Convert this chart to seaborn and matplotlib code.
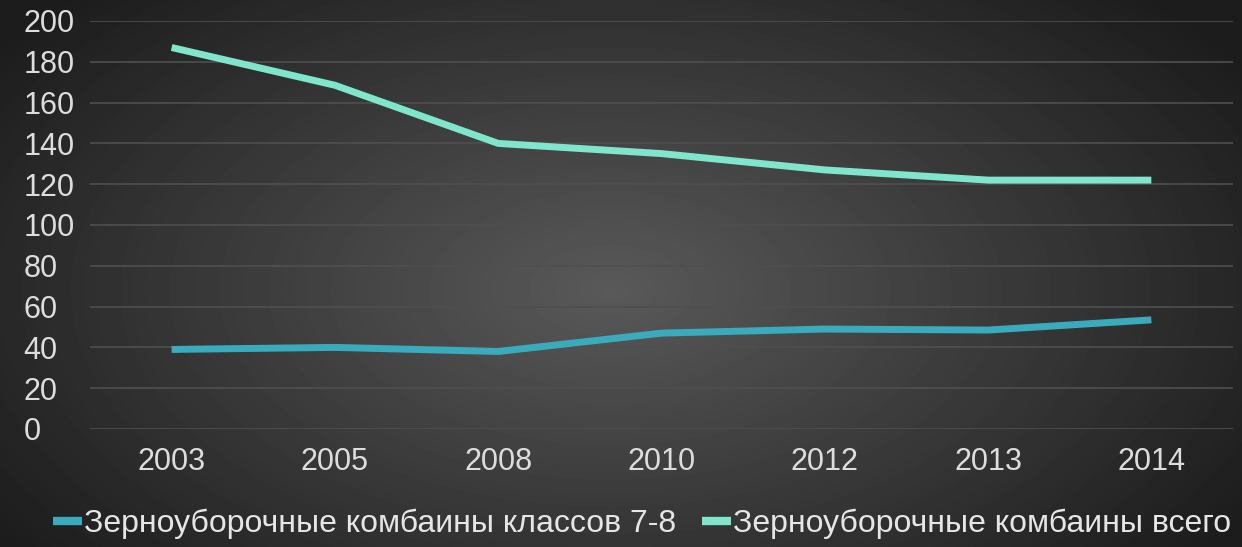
import numpy as np
import pandas as pd
import matplotlib
matplotlib.use("Agg")
import matplotlib.pyplot as plt
import seaborn as sns

# Data
years = ["2003", "2005", "2008", "2010", "2012", "2013", "2014"]
classes_7_8 = [39, 40, 38, 47, 49, 48.5, 53.5]
total = [187, 168.5, 140, 135, 127, 122, 122]
series_names = ["Зерноуборочные комбаины классов 7-8", "Зерноуборочные комбаины всего"]
colors = ["#3aabbd", "#7fe6cb"]

df = pd.DataFrame({
    "year": years * 2,
    "value": classes_7_8 + total,
    "series": [series_names[0]] * len(years) + [series_names[1]] * len(years),
})

sns.set_theme(style="dark")
plt.rcParams["font.family"] = ["Liberation Sans", "DejaVu Sans"]

fig = plt.figure(figsize=(12.42, 5.47), dpi=100)

# radial gradient background
bg = fig.add_axes([0, 0, 1, 1], zorder=0)
yy, xx = np.mgrid[0:547, 0:1242]
r = np.sqrt(((xx - 610) / 760.0) ** 2 + ((yy - 290) / 420.0) ** 2)
shade = np.clip(0.35 - 0.24 * r, 0.11, 0.35)
bg.imshow(shade, cmap="gray", vmin=0, vmax=1, aspect="auto", extent=[0, 1, 0, 1])
bg.set_axis_off()

ax = fig.add_axes([90 / 1242, 1 - 429 / 547, (1233 - 90) / 1242, (429 - 21) / 547], zorder=1)
ax.patch.set_alpha(0)

sns.lineplot(data=df, x="year", y="value", hue="series", palette=colors,
             linewidth=5, ax=ax, legend=True, solid_capstyle="butt")

ax.set_ylim(0, 200)
ax.set_xlim(-0.5, len(years) - 0.5)
ax.set_yticks(range(0, 201, 20))
ax.grid(axis="y", color="#4f4f4f", linewidth=1.2)
ax.grid(axis="x", visible=False)
for s in ax.spines.values():
    s.set_visible(False)
ax.set_xlabel("")
ax.set_ylabel("")
ax.tick_params(axis="y", colors="#dddddd", labelsize=22, pad=48, length=0)
ax.tick_params(axis="x", colors="#dddddd", labelsize=22, pad=13, length=0)
for lbl in ax.get_yticklabels():
    lbl.set_horizontalalignment("left")

leg = ax.legend(loc="center", bbox_to_anchor=(642 / 1242, 23 / 547),
                bbox_transform=fig.transFigure, ncol=2, frameon=False,
                fontsize=23, handlelength=0.9, handletextpad=0.08,
                columnspacing=0.8, labelcolor="#e6e6e6")
for h in leg.get_lines():
    h.set_linewidth(6)
    h.set_solid_capstyle("butt")

fig.savefig("out.png", dpi=100)
